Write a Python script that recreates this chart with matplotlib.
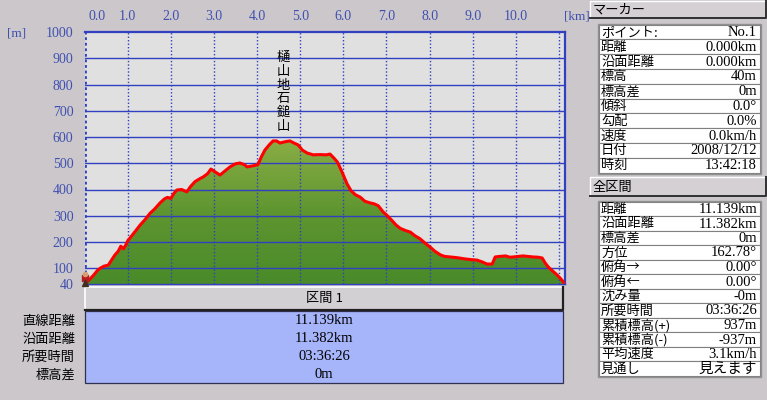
import numpy as np
import matplotlib
matplotlib.use('Agg')
import matplotlib.pyplot as plt
from matplotlib.patches import Rectangle
from matplotlib.colors import LinearSegmentedColormap

plt.rcParams['font.family'] = ['Noto Sans CJK JP', 'DejaVu Sans']

# ── data ──────────────────────────────────────────────────────────────
dist_km = [0.00, 0.10, 0.20, 0.30, 0.36, 0.45, 0.55, 0.62, 0.70, 0.78,
           0.84, 0.90, 0.96, 1.00, 1.10, 1.20, 1.29, 1.40, 1.52, 1.62,
           1.75, 1.85, 1.92, 2.00, 2.07, 2.14, 2.25, 2.37, 2.45, 2.56,
           2.66, 2.75, 2.85, 2.93, 3.00, 3.14, 3.25, 3.37, 3.50, 3.60,
           3.70, 3.77, 3.90, 4.02, 4.10, 4.18, 4.28, 4.37, 4.45, 4.53,
           4.65, 4.76, 4.88, 4.95, 5.05, 5.16, 5.30, 5.45, 5.60, 5.69,
           5.78, 5.86, 5.96, 6.09, 6.18, 6.28, 6.39, 6.50, 6.62, 6.72,
           6.81, 6.92, 7.02, 7.12, 7.22, 7.32, 7.45, 7.55, 7.65, 7.78,
           7.90, 8.01, 8.12, 8.25, 8.35, 8.48, 8.65, 8.80, 8.95, 9.10,
           9.22, 9.33, 9.45, 9.52, 9.62, 9.76, 9.86, 9.94, 10.05, 10.17,
           10.28, 10.40, 10.52, 10.61, 10.68, 10.75, 10.85, 10.96, 11.05, 11.10,
           11.139]
elev_m = [40, 55, 72, 92, 100, 108, 112, 130, 150, 165,
          184, 174, 190, 205, 225, 246, 265, 285, 310, 325,
          349, 364, 370, 366, 385, 398, 400, 391, 410, 430,
          440, 448, 460, 478, 470, 455, 470, 486, 498, 501,
          495, 486, 490, 495, 525, 550, 570, 585, 585, 577,
          582, 585, 575, 570, 550, 539, 532, 533, 532, 535,
          520, 505, 470, 420, 395, 380, 371, 355, 349, 345,
          338, 315, 300, 283, 265, 252, 243, 238, 225, 212,
          195, 181, 165, 151, 145, 143, 140, 136, 133, 131,
          124, 116, 116, 143, 145, 147, 142, 143, 145, 147,
          145, 143, 142, 139, 120, 105, 90, 74, 58, 48,
          40]

y_ticks = [40, 100, 200, 300, 400, 500, 600, 700, 800, 900, 1000]
x_ticks = [0.0, 1.0, 2.0, 3.0, 4.0, 5.0, 6.0, 7.0, 8.0, 9.0, 10.0]
peak_name = '樋山地石鎚山'
peak_km = 4.6

section_title = '区間 1'
section_labels = ['直線距離', '沿面距離', '所要時間', '標高差']
section_values = ['11.139km', '11.382km', '03:36:26', '0m']

marker_labels = ['ポイント:', '距離', '沿面距離', '標高', '標高差', '傾斜',
                 '勾配', '速度', '日付', '時刻']
marker_values = ['No.1', '0.000km', '0.000km', '40m', '0m', '0.0°',
                 '0.0%', '0.0km/h', '2008/12/12', '13:42:18']

total_labels = ['距離', '沿面距離', '標高差', '方位', '俯角→', '俯角←', '沈み量',
                '所要時間', '累積標高(+)', '累積標高(-)', '平均速度', '見通し']
total_values = ['11.139km', '11.382km', '0m', '162.78°', '0.00°', '0.00°', '-0m',
                '03:36:26', '937m', '-937m', '3.1km/h', '見えます']

# ── style ─────────────────────────────────────────────────────────────
BG = '#cbc7cb'
GRID = '#3040c0'
LABEL_BLUE = '#4050b0'
SERIF = ['Liberation Serif', 'Noto Sans CJK JP']
W, H = 767, 400

fig = plt.figure(figsize=(W / 100, H / 100), dpi=100, facecolor=BG)

# pixel-coordinate canvas for panels and tables
bg = fig.add_axes([0, 0, 1, 1], zorder=0)
bg.set_xlim(0, W)
bg.set_ylim(H, 0)
bg.axis('off')

# ── profile plot ──────────────────────────────────────────────────────
x0, x1, y0, y1 = 84.6, 565, 32, 284
ax = fig.add_axes([x0 / W, 1 - y1 / H, (x1 - x0) / W, (y1 - y0) / H], zorder=2)
ax.set_facecolor('#e0e0e0')

dist = np.array(dist_km)
elev = np.array(elev_m)

grad = np.linspace(0, 1, 256).reshape(-1, 1)
cmap = LinearSegmentedColormap.from_list('g', ['#4a8a2a', '#5f9630', '#8cae46'])
im = ax.imshow(grad, extent=[0, dist[-1], 40, 600], aspect='auto', origin='lower',
               cmap=cmap, zorder=1)
poly = ax.fill_between(dist, elev, 40, facecolor='none', edgecolor='none', zorder=1)
im.set_clip_path(poly.get_paths()[0], transform=ax.transData)

for yv in y_ticks[1:-1]:
    ax.axhline(yv, color=GRID, lw=1.0, zorder=2)
for xv in np.arange(1, 12):
    ax.axvline(xv, color=GRID, lw=1.0, ls=(0, (1, 1.5)), zorder=2)
ax.axvline(0, color=GRID, lw=2.0, ls=(0, (1, 1)), zorder=2)

ax.plot(dist, elev, color='#ff0000', lw=2.2, zorder=3, solid_joinstyle='round')

ax.set_xlim(0, dist[-1])
ax.set_ylim(40, 1000)
for side in ['top', 'right']:
    ax.spines[side].set_color(GRID)
    ax.spines[side].set_linewidth(1.6)
ax.spines['bottom'].set_color(GRID)
ax.spines['bottom'].set_linewidth(1.0)
ax.spines['left'].set_visible(False)

ax.set_yticks(y_ticks)
ax.set_yticklabels([str(v) for v in y_ticks], color=LABEL_BLUE,
                   fontfamily=SERIF, fontsize=10)
ax.tick_params(axis='y', length=0, pad=8)
ax.set_xticks([])

xt = ax.get_xaxis_transform()
for v in x_ticks:
    if v == 0:
        ax.text(0.08, 1.06, f'{v:.1f}', transform=xt, ha='left', va='center',
                color=LABEL_BLUE, fontfamily=SERIF, fontsize=10, clip_on=False)
    else:
        ax.text(v, 1.06, f'{v:.1f}', transform=xt, ha='center', va='center',
                color=LABEL_BLUE, fontfamily=SERIF, fontsize=10, clip_on=False)
ax.text(1.025, 1.06, '[km]', transform=ax.transAxes, ha='center', va='center',
        color=LABEL_BLUE, fontfamily=SERIF, fontsize=9.5, clip_on=False)
bg.text(17, 34, '[m]', ha='center', va='center', color=LABEL_BLUE,
        fontfamily=SERIF, fontsize=9.5)

ax.text(peak_km, 928, '\n'.join(peak_name), ha='center', va='top', fontsize=9.5,
        linespacing=1.08, color='black', zorder=4)

# hiker marker at start
ax.plot([0], [64], marker='s', ms=4.5, color='#b02020', clip_on=False, zorder=5)
ax.plot([0], [78], marker='o', ms=3, color='#d8a070', clip_on=False, zorder=5)
ax.plot([0.02], [44], marker='^', ms=4, color='#403020', clip_on=False, zorder=5)

# ── section table below the plot ─────────────────────────────────────
bx0, bx1 = 85, 563
bg.add_patch(Rectangle((bx0, 287), bx1 - bx0, 23, facecolor='#d2d0d2', edgecolor='none'))
bg.plot([bx0, bx0, bx1], [310, 287, 287], color='white', lw=1.2)
bg.plot([bx0, bx1, bx1], [310, 310, 287], color='#202020', lw=1.6)
bg.text((bx0 + bx1) / 2, 298.5, section_title, ha='center', va='center', fontsize=9.5)

bg.add_patch(Rectangle((bx0, 311), bx1 - bx0, 72, facecolor='#a6b4fa',
                       edgecolor='#303050', lw=0.9))
for i, (lab, val) in enumerate(zip(section_labels, section_values)):
    yy = 321 + i * 18
    bg.text(75, yy, lab, ha='right', va='center', fontsize=9.5)
    bg.text((bx0 + bx1) / 2, yy, val, ha='center', va='center', fontsize=10.5,
            fontfamily=SERIF)

# ── right panel ──────────────────────────────────────────────────────
def header(y_top, y_bot, text):
    bg.add_patch(Rectangle((590, y_top), 176, y_bot - y_top, facecolor='#d4d0d4',
                           edgecolor='none'))
    bg.plot([590, 590, 766], [y_bot, y_top, y_top], color='white', lw=1.0)
    bg.plot([590, 766, 766], [y_bot, y_bot, y_top], color='#303030', lw=1.4)
    bg.text(593, (y_top + y_bot) / 2 + 0.5, text, ha='left', va='center', fontsize=9.5)


def table(y_first, pitch, labels, values):
    top = y_first - pitch / 2
    for i, (lab, val) in enumerate(zip(labels, values)):
        yc = y_first + i * pitch
        bg.add_patch(Rectangle((599, yc - pitch / 2), 161, pitch, facecolor='white',
                               edgecolor='#808080', lw=0.8))
        bg.text(601, yc + 0.5, lab, ha='left', va='center', fontsize=9.5)
        bg.text(757, yc + 0.5, val, ha='right', va='center', fontsize=10.5,
                fontfamily=SERIF)
    bg.add_patch(Rectangle((598, top - 1), 163, pitch * len(labels) + 2,
                           facecolor='none', edgecolor='#909090', lw=1.0))


header(1, 18, 'マーカー')
table(32, 14.8, marker_labels, marker_values)
header(177, 196, '全区間')
table(209, 14.5, total_labels, total_values)

fig.savefig('out.png', dpi=100, facecolor=BG)
